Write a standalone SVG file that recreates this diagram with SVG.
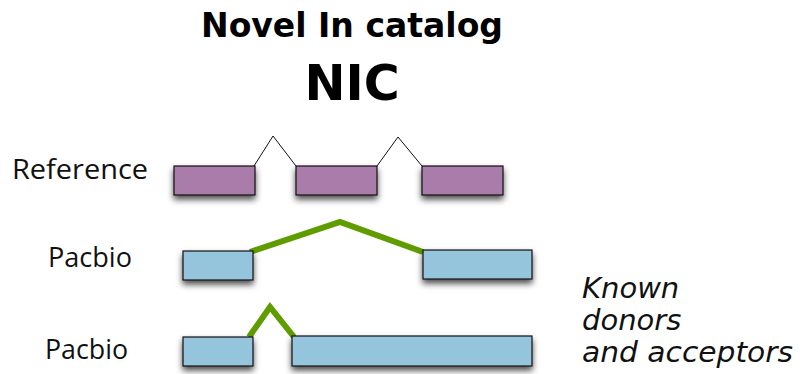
<svg xmlns="http://www.w3.org/2000/svg" width="803" height="374" viewBox="0 0 803 374">
  <style>
    .title { font-family: "DejaVu Sans", Verdana, sans-serif; font-weight: bold; fill: #000; }
    .label { font-family: "Open Sans", "DejaVu Sans", sans-serif; font-size: 28px; fill: #111; }
    .note { font-family: "DejaVu Sans", Verdana, sans-serif; font-style: italic; font-size: 29px; fill: #111; }
    .exon-ref { fill: #a97ca9; stroke: #111; stroke-width: 1.2; filter: url(#shadow); }
    .exon-pb { fill: #95c5dc; stroke: #111; stroke-width: 1.2; filter: url(#shadow); }
    .intron-ref { fill: none; stroke: #111; stroke-width: 1; }
    .intron-pb { fill: none; stroke: #5f9c00; stroke-width: 6; stroke-linejoin: miter; }
  </style>
  <defs>
    <filter id="shadow" x="-20%" y="-40%" width="140%" height="200%">
      <feDropShadow dx="0" dy="4" stdDeviation="3" flood-color="#000" flood-opacity="0.7"/>
    </filter>
  </defs>

  <!-- heading -->
  <text class="title" x="352" y="37" font-size="33" text-anchor="middle" textLength="302" lengthAdjust="spacingAndGlyphs">Novel In catalog</text>
  <text class="title" x="352" y="100" font-size="49" text-anchor="middle">NIC</text>

  <!-- row labels -->
  <text class="label" x="12" y="179" textLength="136" lengthAdjust="spacingAndGlyphs">Reference</text>
  <text class="label" x="48" y="267" textLength="84" lengthAdjust="spacingAndGlyphs">Pacbio</text>
  <text class="label" x="45" y="359" textLength="83" lengthAdjust="spacingAndGlyphs">Pacbio</text>

  <!-- splice lines -->
  <g id="connectors">
    <polyline class="intron-ref" points="254,166 273,136 296,166"/>
    <polyline class="intron-ref" points="377,166 398,137 422,166"/>
    <polyline class="intron-pb" points="250,252 340,222 423,252"/>
    <polyline class="intron-pb" points="249,337 270,307 294,337"/>
  </g>

  <!-- reference transcript exons -->
  <g id="ref-exon-1"><rect class="exon-ref" x="174" y="166" width="81" height="29"/></g>
  <g id="ref-exon-2"><rect class="exon-ref" x="296" y="166" width="81" height="29"/></g>
  <g id="ref-exon-3"><rect class="exon-ref" x="422" y="166" width="81" height="29"/></g>

  <!-- first Pacbio read -->
  <g id="pb1-exon-1"><rect class="exon-pb" x="183" y="251" width="70" height="29"/></g>
  <g id="pb1-exon-2"><rect class="exon-pb" x="423" y="250" width="109" height="29"/></g>

  <!-- second Pacbio read -->
  <g id="pb2-exon-1"><rect class="exon-pb" x="183" y="337" width="70" height="29"/></g>
  <g id="pb2-exon-2"><rect class="exon-pb" x="292" y="336" width="240" height="30"/></g>

  <!-- side note -->
  <g id="note">
    <text class="note" x="582" y="298">Known</text>
    <text class="note" x="582" y="330">donors</text>
    <text class="note" x="582" y="362" textLength="211" lengthAdjust="spacingAndGlyphs">and acceptors</text>
  </g>
</svg>
